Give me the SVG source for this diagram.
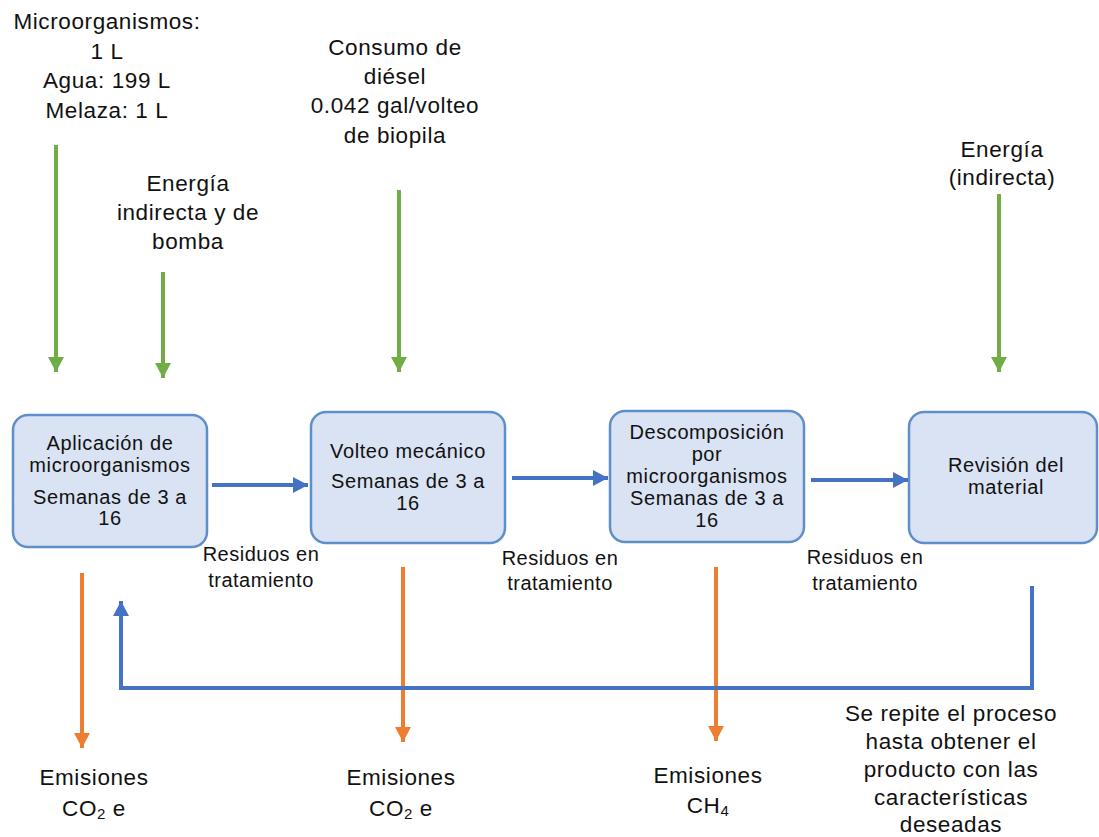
<svg xmlns="http://www.w3.org/2000/svg" width="1099" height="837" viewBox="0 0 1099 837">
  <style>
    text { font-family: "Liberation Sans", Arial, sans-serif; fill: #111; text-anchor: middle; }
    .lbl { font-size: 22.5px; letter-spacing: 0.6px; }
    .box-text { font-size: 20px; letter-spacing: 0.6px; }
    .res { font-size: 20px; letter-spacing: 0.5px; }
    .box { fill: #DAE3F3; stroke: #5E8FCB; stroke-width: 2.5; }
    .in { stroke: #70AD47; stroke-width: 4; fill: none; }
    .out { stroke: #ED7D31; stroke-width: 4; fill: none; }
    .flow { stroke: #4472C4; stroke-width: 4; fill: none; }
  </style>
  <defs>
    <marker id="headGreen" markerUnits="userSpaceOnUse" markerWidth="17" markerHeight="17" refX="15" refY="8" orient="auto">
      <path d="M0,0 L15,8 L0,16 Z" fill="#70AD47"/>
    </marker>
    <marker id="headOrange" markerUnits="userSpaceOnUse" markerWidth="17" markerHeight="17" refX="15" refY="8" orient="auto">
      <path d="M0,0 L15,8 L0,16 Z" fill="#ED7D31"/>
    </marker>
    <marker id="headBlue" markerUnits="userSpaceOnUse" markerWidth="17" markerHeight="17" refX="15" refY="8" orient="auto">
      <path d="M0,0 L15,8 L0,16 Z" fill="#4472C4"/>
    </marker>
  </defs>

  <rect width="1099" height="837" fill="#ffffff"/>

  <!-- input labels -->
  <g id="input-microorganismos">
    <text class="lbl" x="107" y="29">Microorganismos:</text>
    <text class="lbl" x="107" y="59">1 L</text>
    <text class="lbl" x="107" y="88">Agua: 199 L</text>
    <text class="lbl" x="107" y="118">Melaza: 1 L</text>
  </g>
  <g id="input-energia-bomba">
    <text class="lbl" x="188" y="191">Energía</text>
    <text class="lbl" x="188" y="220">indirecta y de</text>
    <text class="lbl" x="188" y="249">bomba</text>
  </g>
  <g id="input-diesel">
    <text class="lbl" x="395" y="55">Consumo de</text>
    <text class="lbl" x="395" y="84">diésel</text>
    <text class="lbl" x="395" y="113">0.042 gal/volteo</text>
    <text class="lbl" x="395" y="143">de biopila</text>
  </g>
  <g id="input-energia">
    <text class="lbl" x="1002" y="157">Energía</text>
    <text class="lbl" x="1002" y="185">(indirecta)</text>
  </g>

  <!-- process nodes -->
  <g id="node-aplicacion">
    <rect class="box" x="13" y="415" width="194" height="132" rx="15"/>
    <text class="box-text" x="110" y="450">Aplicación de</text>
    <text class="box-text" x="110" y="472">microorganismos</text>
    <text class="box-text" x="110" y="504">Semanas de 3 a</text>
    <text class="box-text" x="110" y="525">16</text>
  </g>
  <g id="node-volteo">
    <rect class="box" x="311" y="412" width="194" height="131" rx="15"/>
    <text class="box-text" x="408" y="458">Volteo mecánico</text>
    <text class="box-text" x="408" y="488">Semanas de 3 a</text>
    <text class="box-text" x="408" y="510">16</text>
  </g>
  <g id="node-descomposicion">
    <rect class="box" x="610" y="411" width="194" height="131" rx="15"/>
    <text class="box-text" x="707" y="439">Descomposición</text>
    <text class="box-text" x="707" y="461">por</text>
    <text class="box-text" x="707" y="483">microorganismos</text>
    <text class="box-text" x="707" y="505">Semanas de 3 a</text>
    <text class="box-text" x="707" y="527">16</text>
  </g>
  <g id="node-revision">
    <rect class="box" x="909" y="412" width="188" height="131" rx="15"/>
    <text class="box-text" x="1006" y="472">Revisión del</text>
    <text class="box-text" x="1006" y="494">material</text>
  </g>

  <!-- flow labels -->
  <g id="label-residuos-1">
    <text class="res" x="261" y="561">Residuos en</text>
    <text class="res" x="261" y="587">tratamiento</text>
  </g>
  <g id="label-residuos-2">
    <text class="res" x="560" y="565">Residuos en</text>
    <text class="res" x="560" y="590">tratamiento</text>
  </g>
  <g id="label-residuos-3">
    <text class="res" x="865" y="564">Residuos en</text>
    <text class="res" x="865" y="590">tratamiento</text>
  </g>

  <!-- output labels -->
  <g id="output-co2-1">
    <text class="lbl" x="94" y="785">Emisiones</text>
    <text class="lbl" x="94" y="816">CO<tspan font-size="15" dy="3">2</tspan><tspan dy="-3"> e</tspan></text>
  </g>
  <g id="output-co2-2">
    <text class="lbl" x="401" y="785">Emisiones</text>
    <text class="lbl" x="401" y="816">CO<tspan font-size="15" dy="3">2</tspan><tspan dy="-3"> e</tspan></text>
  </g>
  <g id="output-ch4">
    <text class="lbl" x="708" y="783">Emisiones</text>
    <text class="lbl" x="708" y="813">CH<tspan font-size="15" dy="3">4</tspan></text>
  </g>
  <g id="note-repite">
    <text class="lbl" x="951" y="721">Se repite el proceso</text>
    <text class="lbl" x="951" y="749">hasta obtener el</text>
    <text class="lbl" x="951" y="777">producto con las</text>
    <text class="lbl" x="951" y="805">características</text>
    <text class="lbl" x="951" y="832">deseadas</text>
  </g>

  <!-- connectors -->
  <g id="connectors">
    <line class="in" x1="56" y1="145" x2="56" y2="372" marker-end="url(#headGreen)"/>
    <line class="in" x1="163" y1="272" x2="163" y2="378" marker-end="url(#headGreen)"/>
    <line class="in" x1="399" y1="190" x2="399" y2="372" marker-end="url(#headGreen)"/>
    <line class="in" x1="999" y1="194" x2="999" y2="372" marker-end="url(#headGreen)"/>

    <line class="flow" x1="212" y1="485" x2="308" y2="485" marker-end="url(#headBlue)"/>
    <line class="flow" x1="512" y1="478" x2="608" y2="478" marker-end="url(#headBlue)"/>
    <line class="flow" x1="811" y1="480" x2="908" y2="480" marker-end="url(#headBlue)"/>

    <line class="out" x1="82" y1="573" x2="82" y2="748" marker-end="url(#headOrange)"/>
    <line class="out" x1="403" y1="567" x2="403" y2="742" marker-end="url(#headOrange)"/>
    <line class="out" x1="716" y1="567" x2="716" y2="741" marker-end="url(#headOrange)"/>

    <polyline class="flow" points="1032,586 1032,688 121,688 121,601" marker-end="url(#headBlue)"/>
  </g>
</svg>
